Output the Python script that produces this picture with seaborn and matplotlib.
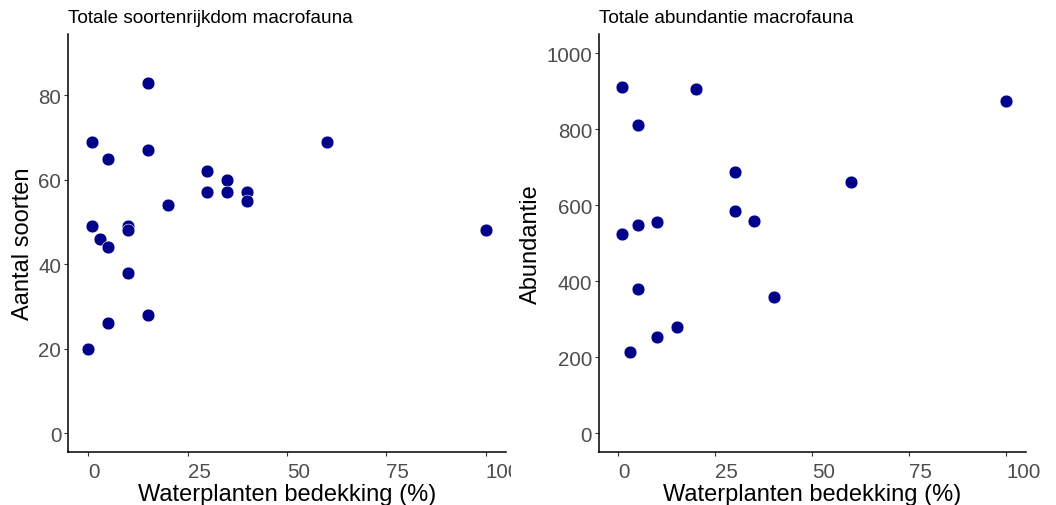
import matplotlib
matplotlib.use("Agg")
import matplotlib.pyplot as plt
from matplotlib.transforms import Bbox, TransformedBbox
import pandas as pd
import seaborn as sns

# Species richness per sampling site vs. aquatic plant cover
cover_richness = [0, 1, 1, 3, 5, 5, 5, 10, 10, 10, 15, 15, 15, 20, 30, 30, 35, 35, 40, 40, 60, 100]
richness = [20, 69, 49, 46, 65, 44, 26, 49, 48, 38, 83, 67, 28, 54, 62, 57, 60, 57, 57, 55, 69, 48]

# Total abundance per sampling site vs. aquatic plant cover
cover_abundance = [1, 20, 100, 5, 30, 60, 30, 35, 10, 5, 1, 5, 40, 15, 10, 3]
abundance = [910, 906, 875, 811, 688, 661, 584, 557, 555, 549, 524, 379, 358, 279, 252, 215]

x_ticks = [0, 25, 50, 75, 100]
richness_ticks = [0, 20, 40, 60, 80]
abundance_ticks = [0, 200, 400, 600, 800, 1000]

titles = ["Totale soortenrijkdom macrofauna", "Totale abundantie macrofauna"]
x_label = "Waterplanten bedekking (%)"
y_labels = ["Aantal soorten", "Abundantie"]

sns.set_theme(style="ticks")
plt.rcParams["font.family"] = ["Liberation Sans", "DejaVu Sans"]

point_color = "#00008B"
tick_grey = "#4D4D4D"

fig = plt.figure(figsize=(10.56, 5.06), dpi=100)
ax1 = fig.add_axes([68.3 / 1056, 1 - 453.3 / 506, (505.7 - 68.3) / 1056, (453.3 - 35) / 506])
ax2 = fig.add_axes([599 / 1056, 1 - 453.3 / 506, (1025.7 - 599) / 1056, (453.3 - 35) / 506])

df1 = pd.DataFrame({"cover": cover_richness, "value": richness})
df2 = pd.DataFrame({"cover": cover_abundance, "value": abundance})

panels = [
    (ax1, df1, richness_ticks, (-4.5, 94.5)),
    (ax2, df2, abundance_ticks, (-50, 1050)),
]

for i, (ax, df, yt, ylim) in enumerate(panels):
    sns.scatterplot(data=df, x="cover", y="value", ax=ax, color=point_color,
                    s=85, edgecolor="white", linewidth=0.4, zorder=3)
    ax.set_xlim(-5, 105)
    ax.set_ylim(*ylim)
    ax.set_xticks(x_ticks)
    ax.set_yticks(yt)
    ax.set_xticklabels([str(t) for t in x_ticks], ha="left")
    ax.tick_params(axis="both", length=3, width=0.8, color="#333333",
                   labelsize=14.8, labelcolor=tick_grey, pad=2)
    ax.tick_params(axis="x", pad=4)
    for side in ["top", "right"]:
        ax.spines[side].set_visible(False)
    for side in ["left", "bottom"]:
        ax.spines[side].set_color("black")
        ax.spines[side].set_linewidth(1.1)
    ax.set_xlabel(x_label, fontsize=17, color="black", va="baseline")
    ax.xaxis.set_label_coords(0.5, -0.114)
    ax.set_ylabel(y_labels[i], fontsize=17, color="black", labelpad=3)
    ax.set_title(titles[i], loc="left", fontsize=13.7, color="black", pad=9)

# the left panel's outermost x label is cut at its cell edge
clip = TransformedBbox(Bbox([[0, 0], [511 / 1056, 1]]), fig.transFigure)
for lab in ax1.get_xticklabels():
    lab.set_clip_box(clip)
    lab.set_clip_on(True)

fig.savefig("out.png", dpi=100, facecolor="white")
